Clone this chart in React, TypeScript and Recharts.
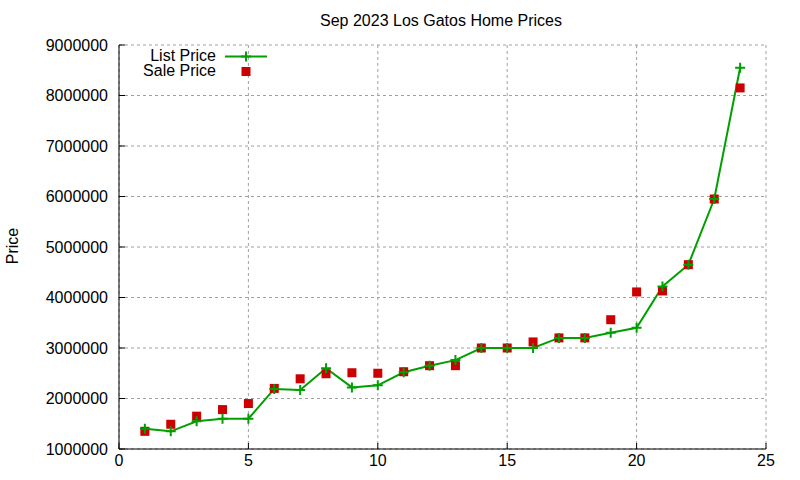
import React from "react";
import {
  ComposedChart,
  Line,
  Scatter,
  XAxis,
  YAxis,
  CartesianGrid,
  Legend,
} from "recharts";

const homes = [1, 2, 3, 4, 5, 6, 7, 8, 9, 10, 11, 12, 13, 14, 15, 16, 17, 18, 19, 20, 21, 22, 23, 24];
const listPrice = [
  1400000, 1350000, 1550000, 1600000, 1600000, 2190000, 2170000, 2600000, 2220000, 2260000, 2520000, 2650000,
  2760000, 3000000, 3000000, 3000000, 3200000, 3200000, 3300000, 3400000, 4220000, 4650000, 5950000, 8550000,
];
const salePrice = [
  1350000, 1490000, 1650000, 1780000, 1900000, 2200000, 2390000, 2490000, 2510000, 2500000, 2530000, 2650000,
  2650000, 3000000, 3000000, 3120000, 3200000, 3200000, 3560000, 4110000, 4130000, 4650000, 5950000, 8150000,
];
const xTicks = [0, 5, 10, 15, 20, 25];
const yTicks = [1000000, 2000000, 3000000, 4000000, 5000000, 6000000, 7000000, 8000000, 9000000];

const data = homes.map((h, i) => ({ x: h, list: listPrice[i], sale: salePrice[i] }));

const GREEN = "#00a000";
const RED = "#cc0000";
const FONT = "'Liberation Sans', Arial, sans-serif";
const tickStyle = { fill: "#000", fontSize: 16, fontFamily: FONT };

const Plus = (props: any) => {
  const { cx, cy, index } = props;
  if (cx == null || cy == null) return <g key={index} />;
  return (
    <path
      key={index}
      d={`M${cx - 5},${cy}H${cx + 5}M${cx},${cy - 5}V${cy + 5}`}
      stroke={GREEN}
      strokeWidth={2}
    />
  );
};

const Square = (props: any) => {
  const { cx, cy } = props;
  return <rect x={cx - 4.5} y={cy - 4.5} width={9} height={9} fill={RED} />;
};

const LegendBox = () => (
  <svg width={200} height={40} style={{ display: "block" }}>
    <text x={97} y={15.5} textAnchor="end" fontSize={16} fontFamily={FONT} fill="#000">
      List Price
    </text>
    <line x1={106} x2={148} y1={11.5} y2={11.5} stroke={GREEN} strokeWidth={2} />
    <path d="M122,11.5H132M127,6.5V16.5" stroke={GREEN} strokeWidth={2} />
    <text x={97} y={31} textAnchor="end" fontSize={16} fontFamily={FONT} fill="#000">
      Sale Price
    </text>
    <rect x={122.5} y={22} width={9} height={9} fill={RED} />
  </svg>
);

export default function App() {
  return (
    <div style={{ position: "absolute", left: 0, top: 0, width: 800, height: 480, background: "#fff" }}>
      <ComposedChart
        width={800}
        height={480}
        data={data}
        margin={{ top: 45, right: 34, left: 0, bottom: 0 }}
      >
        <CartesianGrid stroke="#a0a0a0" strokeDasharray="3 3" />
        <XAxis
          dataKey="x"
          type="number"
          domain={[0, 25]}
          ticks={xTicks}
          height={31}
          tickSize={-6}
          tickMargin={12}
          stroke="#000"
          tick={tickStyle}
        />
        <XAxis
          xAxisId="top"
          orientation="top"
          dataKey="x"
          type="number"
          domain={[0, 25]}
          ticks={xTicks}
          height={0}
          tickSize={-6}
          tickFormatter={() => ""}
          stroke="#000"
        />
        <YAxis
          type="number"
          domain={[1000000, 9000000]}
          ticks={yTicks}
          width={119}
          tickSize={-6}
          tickMargin={17}
          stroke="#000"
          tick={tickStyle}
          interval={0}
        />
        <YAxis
          yAxisId="right"
          orientation="right"
          type="number"
          domain={[1000000, 9000000]}
          ticks={yTicks}
          width={0}
          tickSize={-6}
          tickFormatter={() => ""}
          stroke="#000"
        />
        <Legend
          layout="vertical"
          align="center"
          verticalAlign="middle"
          wrapperStyle={{ left: 119, top: 45, width: 200 }}
          content={() => <LegendBox />}
        />
        <Line
          dataKey="list"
          name="List Price"
          type="linear"
          stroke={GREEN}
          strokeWidth={2}
          dot={Plus}
          activeDot={false}
          isAnimationActive={false}
        />
        <Scatter
          dataKey="sale"
          name="Sale Price"
          fill={RED}
          shape={Square}
          isAnimationActive={false}
        />
      </ComposedChart>
      <svg
        width={800}
        height={480}
        style={{ position: "absolute", left: 0, top: 0, pointerEvents: "none" }}
      >
        <text x={441} y={26} textAnchor="middle" fontSize={16} fontFamily={FONT} fill="#000">
          Sep 2023 Los Gatos Home Prices
        </text>
        <text
          transform="translate(18,246) rotate(-90)"
          textAnchor="middle"
          fontSize={16}
          fontFamily={FONT}
          fill="#000"
        >
          Price
        </text>
      </svg>
    </div>
  );
}
